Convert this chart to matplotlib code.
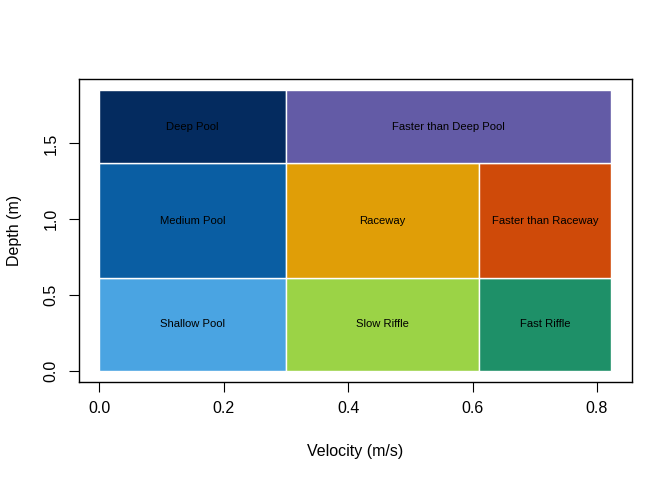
import matplotlib
matplotlib.use("Agg")
import matplotlib.pyplot as plt
from matplotlib.patches import Rectangle

plt.rcParams['font.family'] = ['Liberation Sans', 'DejaVu Sans']

# Habitat classes: name, velocity range, depth range, colour
names = ["Shallow Pool", "Slow Riffle", "Fast Riffle",
         "Medium Pool", "Raceway", "Faster than Raceway",
         "Deep Pool", "Faster than Deep Pool"]
vel_lo = [0.0, 0.30, 0.61, 0.0, 0.30, 0.61, 0.0, 0.30]
vel_hi = [0.30, 0.61, 0.823, 0.30, 0.61, 0.823, 0.30, 0.823]
dep_lo = [0.0, 0.0, 0.0, 0.61, 0.61, 0.61, 1.37, 1.37]
dep_hi = [0.61, 0.61, 0.61, 1.37, 1.37, 1.37, 1.85, 1.85]
colors = ["#4AA4E2", "#9BD346", "#1E9068",
          "#0A5EA3", "#E09E07", "#CF4A09",
          "#042B5F", "#635BA6"]

x_ticks = [0.0, 0.2, 0.4, 0.6, 0.8]
x_tick_labels = ["0.0", "0.2", "0.4", "0.6", "0.8"]
y_ticks = [0.0, 0.5, 1.0, 1.5]
y_tick_labels = ["0.0", "0.5", "1.0", "1.5"]

fig = plt.figure(figsize=(6.72, 4.8), dpi=100)
W, H = 672, 480
left, right, top, bottom = 79, 631.7, 79.3, 381.7
ax = fig.add_axes([left / W, 1 - bottom / H, (right - left) / W, (bottom - top) / H])

for n, x0, x1, y0, y1, c in zip(names, vel_lo, vel_hi, dep_lo, dep_hi, colors):
    ax.add_patch(Rectangle((x0, y0), x1 - x0, y1 - y0, facecolor=c,
                           edgecolor="white", linewidth=1.0))
    ax.text((x0 + x1) / 2, (y0 + y1) / 2, n, ha="center", va="center",
            fontsize=8.1, color="black")

xmin, xmax = min(vel_lo), max(vel_hi)
ymin, ymax = min(dep_lo), max(dep_hi)
xr, yr = xmax - xmin, ymax - ymin
ax.set_xlim(xmin - 0.04 * xr, xmax + 0.04 * xr)
ax.set_ylim(ymin - 0.04 * yr, ymax + 0.04 * yr)

ax.set_xticks(x_ticks)
ax.set_xticklabels(x_tick_labels)
ax.set_yticks(y_ticks)
ax.set_yticklabels(y_tick_labels, rotation=90, va="center")
ax.tick_params(axis="both", direction="out", length=6.9, width=0.8,
               labelsize=11.5, colors="black")
ax.tick_params(axis="x", pad=7)
ax.tick_params(axis="y", pad=8)
for s in ax.spines.values():
    s.set_linewidth(1.0)
    s.set_color("black")

fig.text((left + right) / 2 / W, 1 - 451.5 / H, "Velocity (m/s)",
         ha="center", va="center", fontsize=11.5)
fig.text(14 / W, 1 - (top + bottom) / 2 / H, "Depth (m)",
         ha="center", va="center", rotation=90, fontsize=11.5)

fig.savefig("out.png", dpi=100)
